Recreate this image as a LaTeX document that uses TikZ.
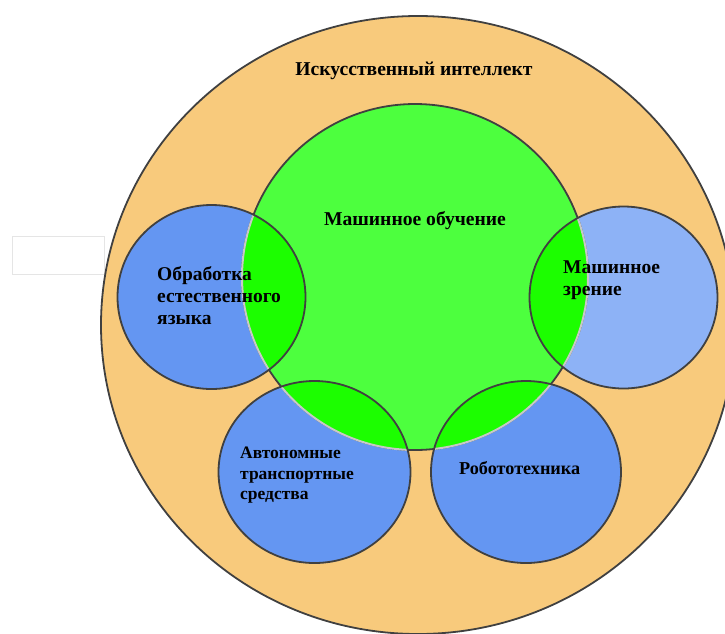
\documentclass[tikz,border=0pt]{standalone}
\usepackage{fontspec}
\setmainfont{Liberation Serif}
\definecolor{aiorange}{HTML}{F8CA7C}
\definecolor{mlgreen}{HTML}{4DFF3E}
\definecolor{overlapgreen}{HTML}{1CFE00}
\definecolor{subblue}{HTML}{6496F2}
\definecolor{lightblue}{HTML}{8DB2F6}
\definecolor{rimgray}{HTML}{404040}
\definecolor{seamgray}{HTML}{C8C8C8}
\tikzset{
  rim/.style={draw=rimgray, line width=1.8pt},
  seam/.style={draw=seamgray, line width=2pt},
  lbl/.style={font=\fontsize{19.6}{22}\selectfont\bfseries, text=black, inner sep=0pt},
  sublbl/.style={font=\fontsize{19.5}{22}\selectfont\bfseries, text=black, inner sep=0pt, align=left, anchor=north west},
  smalllbl/.style={font=\fontsize{17.5}{20.5}\selectfont\bfseries, text=black, inner sep=0pt, align=left, anchor=north west},
  roblbl/.style={font=\fontsize{18.2}{20.5}\selectfont\bfseries, text=black, inner sep=0pt, align=left, anchor=north west}
}
\begin{document}
\begin{tikzpicture}[x=1pt,y=-1pt]
\useasboundingbox (0,0) rectangle (725,633);
\fill[white] (0,0) rectangle (725,633);
\begin{scope}
\clip (0,0) rectangle (725,633);
% empty box at left
\node[draw=black!10, fill=white, line width=0.8pt, minimum width=92pt, minimum height=38pt, inner sep=0pt] (blank) at (58,255) {};
% AI
\path[fill=aiorange, rim] (418,325) ellipse [x radius=317, y radius=309];
% sub circles fill
\path[fill=subblue] (211.5,297) ellipse [x radius=94, y radius=92];
\path[fill=lightblue] (623.5,297.5) ellipse [x radius=94, y radius=91];
\path[fill=subblue] (314.5,472) ellipse [x radius=96, y radius=91];
\path[fill=subblue] (526,472) ellipse [x radius=95, y radius=91];
% ML
\path[fill=mlgreen, rim] (415,277) circle [radius=173];
% overlaps
\foreach \cx/\cy/\rx/\ry in {211.5/297/94/92, 623.5/297.5/94/91, 314.5/472/96/91, 526/472/95/91}{
  \begin{scope}
    \clip (\cx,\cy) ellipse [x radius=\rx, y radius=\ry];
    \path[fill=overlapgreen] (415,277) circle [radius=173];
    \path[seam] (415,277) circle [radius=173];
  \end{scope}
  \path[rim] (\cx,\cy) ellipse [x radius=\rx, y radius=\ry];
}
\end{scope}
% labels
\node[lbl] (ai) at (414,71) {Искусственный интеллект};
\node[lbl] (ml) at (415,221) {Машинное обучение};
\node[sublbl] (nlp) at (157,266) {Обработка\\естественного\\языка};
\node[sublbl] (cv) at (563,261) {Машинное\\зрение};
\node[smalllbl] (av) at (240,447) {Автономные\\транспортные\\средства};
\node[roblbl] (rob) at (459,461) {Робототехника};
\end{tikzpicture}
\end{document}
